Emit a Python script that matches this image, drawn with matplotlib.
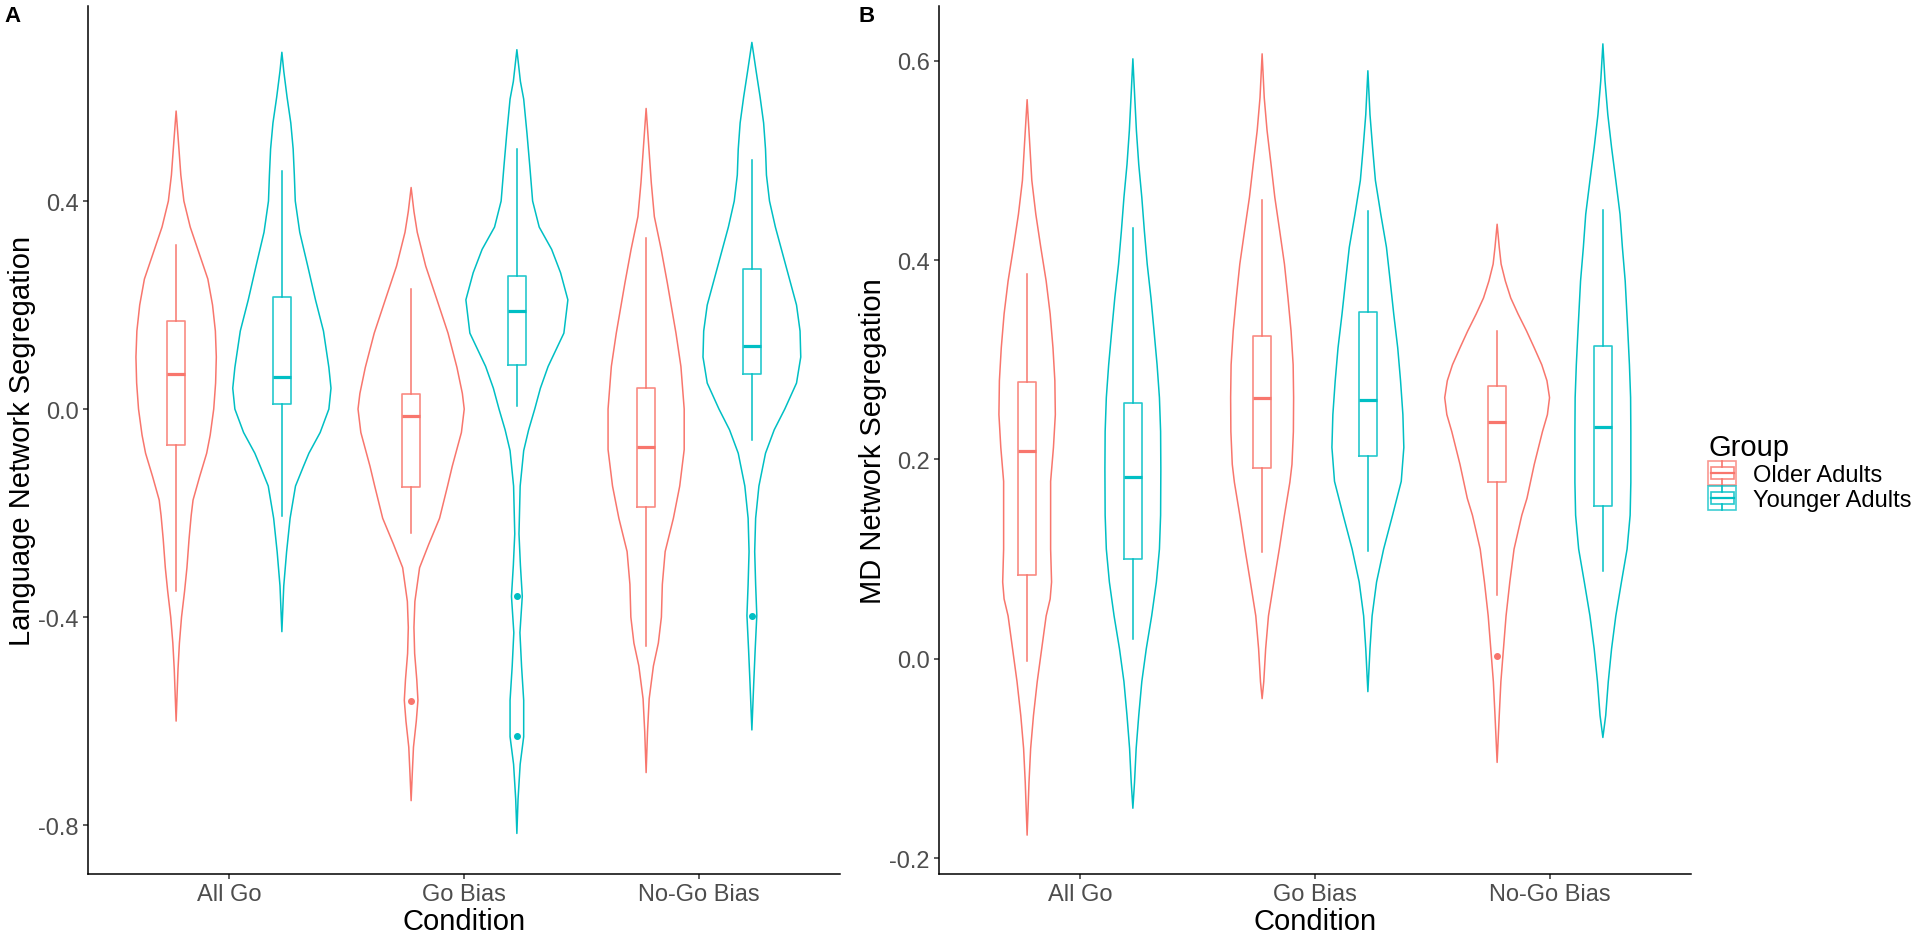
import numpy as np
import matplotlib
matplotlib.use("Agg")
import matplotlib.pyplot as plt
from matplotlib.legend_handler import HandlerBase
from matplotlib.patches import Rectangle, Patch
from matplotlib.lines import Line2D

plt.rcParams['font.family'] = ['Liberation Sans', 'DejaVu Sans']

conditions = ['All Go', 'Go Bias', 'No-Go Bias']
groups = ['Older Adults', 'Younger Adults']
colors = ['#F8766D', '#00BFC4']

# violin outlines: (value, half width in x units)
lang_older_allgo = [(0.573, 0), (0.50, 0.012), (0.45, 0.02), (0.40, 0.033), (0.35, 0.06),
                    (0.31, 0.09), (0.25, 0.135), (0.20, 0.155), (0.15, 0.167), (0.10, 0.171),
                    (0.05, 0.168), (0.00, 0.160), (-0.05, 0.145), (-0.085, 0.13), (-0.13, 0.10),
                    (-0.175, 0.072), (-0.205, 0.064), (-0.25, 0.055), (-0.305, 0.046),
                    (-0.35, 0.036), (-0.40, 0.023), (-0.45, 0.014), (-0.50, 0.008),
                    (-0.55, 0.004), (-0.60, 0)]
lang_older_gobias = [(0.426, 0), (0.38, 0.012), (0.34, 0.026), (0.275, 0.062), (0.21, 0.11),
                     (0.146, 0.157), (0.08, 0.195), (0.03, 0.218), (0.00, 0.226), (-0.045, 0.214),
                     (-0.085, 0.19), (-0.11, 0.175), (-0.148, 0.155), (-0.21, 0.121),
                     (-0.26, 0.075), (-0.305, 0.036), (-0.37, 0.016), (-0.42, 0.012),
                     (-0.47, 0.015), (-0.52, 0.024), (-0.56, 0.029), (-0.60, 0.022),
                     (-0.65, 0.010), (-0.70, 0.005), (-0.753, 0)]
lang_older_nogo = [(0.578, 0), (0.50, 0.012), (0.435, 0.022), (0.37, 0.035), (0.307, 0.064),
                   (0.243, 0.09), (0.146, 0.127), (0.082, 0.148), (0.00, 0.162), (-0.078, 0.162),
                   (-0.148, 0.143), (-0.21, 0.116), (-0.274, 0.081), (-0.337, 0.069),
                   (-0.40, 0.065), (-0.45, 0.052), (-0.494, 0.031), (-0.557, 0.013),
                   (-0.62, 0.006), (-0.699, 0)]
lang_younger_allgo = [(0.686, 0), (0.65, 0.008), (0.60, 0.022), (0.55, 0.038), (0.50, 0.048),
                      (0.45, 0.053), (0.40, 0.057), (0.34, 0.076), (0.275, 0.11), (0.21, 0.143),
                      (0.15, 0.177), (0.08, 0.20), (0.04, 0.209), (0.00, 0.20), (-0.045, 0.163),
                      (-0.085, 0.115), (-0.11, 0.092), (-0.148, 0.058), (-0.21, 0.035),
                      (-0.275, 0.02), (-0.34, 0.008), (-0.428, 0)]
lang_younger_gobias = [(0.691, 0), (0.63, 0.015), (0.596, 0.029), (0.53, 0.043), (0.467, 0.055),
                       (0.40, 0.067), (0.35, 0.095), (0.307, 0.148), (0.262, 0.186), (0.21, 0.217),
                       (0.146, 0.20), (0.082, 0.133), (0.04, 0.10), (0.00, 0.076), (-0.04, 0.05),
                       (-0.08, 0.029), (-0.148, 0.014), (-0.24, 0.009), (-0.30, 0.015),
                       (-0.36, 0.023), (-0.43, 0.013), (-0.495, 0.02), (-0.56, 0.029),
                       (-0.63, 0.029), (-0.683, 0.014), (-0.75, 0.005), (-0.816, 0)]
lang_younger_nogo = [(0.705, 0), (0.65, 0.018), (0.60, 0.035), (0.55, 0.05), (0.50, 0.058),
                     (0.45, 0.062), (0.40, 0.075), (0.35, 0.10), (0.30, 0.13), (0.25, 0.16),
                     (0.20, 0.19), (0.15, 0.205), (0.10, 0.208), (0.05, 0.19), (0.00, 0.14),
                     (-0.04, 0.095), (-0.085, 0.058), (-0.148, 0.03), (-0.21, 0.016),
                     (-0.274, 0.012), (-0.337, 0.016), (-0.397, 0.021), (-0.463, 0.014),
                     (-0.526, 0.008), (-0.617, 0)]

md_older_allgo = [(0.561, 0), (0.513, 0.012), (0.48, 0.02), (0.446, 0.037), (0.413, 0.058),
                  (0.379, 0.081), (0.346, 0.098), (0.312, 0.11), (0.279, 0.118), (0.245, 0.12),
                  (0.212, 0.112), (0.178, 0.10), (0.144, 0.10), (0.11, 0.10), (0.077, 0.104),
                  (0.06, 0.098), (0.043, 0.081), (0.01, 0.062), (-0.023, 0.043),
                  (-0.057, 0.027), (-0.09, 0.015), (-0.124, 0.008), (-0.177, 0)]
md_older_gobias = [(0.607, 0), (0.563, 0.009), (0.53, 0.021), (0.496, 0.038), (0.463, 0.054),
                   (0.429, 0.075), (0.396, 0.095), (0.362, 0.11), (0.329, 0.123), (0.295, 0.132),
                   (0.262, 0.134), (0.228, 0.133), (0.195, 0.127), (0.177, 0.118),
                   (0.144, 0.095), (0.11, 0.073), (0.077, 0.05), (0.043, 0.027),
                   (0.01, 0.015), (-0.023, 0.007), (-0.04, 0)]
md_older_nogo = [(0.436, 0), (0.413, 0.009), (0.396, 0.017), (0.379, 0.035), (0.362, 0.058),
                 (0.346, 0.089), (0.329, 0.125), (0.312, 0.158), (0.295, 0.19), (0.279, 0.212),
                 (0.262, 0.223), (0.245, 0.214), (0.228, 0.193), (0.195, 0.158), (0.161, 0.127),
                 (0.144, 0.105), (0.11, 0.072), (0.077, 0.054), (0.043, 0.038), (0.01, 0.027),
                 (-0.023, 0.016), (-0.057, 0.009), (-0.104, 0)]
md_younger_allgo = [(0.602, 0), (0.563, 0.008), (0.53, 0.015), (0.496, 0.025), (0.463, 0.038),
                    (0.429, 0.049), (0.396, 0.061), (0.362, 0.077), (0.329, 0.09), (0.295, 0.103),
                    (0.262, 0.113), (0.228, 0.118), (0.19, 0.119), (0.144, 0.118), (0.11, 0.113),
                    (0.077, 0.10), (0.043, 0.08), (0.01, 0.057), (-0.023, 0.038),
                    (-0.057, 0.025), (-0.09, 0.014), (-0.124, 0.007), (-0.15, 0)]
md_younger_gobias = [(0.59, 0), (0.546, 0.009), (0.513, 0.02), (0.48, 0.032), (0.446, 0.055),
                     (0.413, 0.079), (0.379, 0.095), (0.346, 0.11), (0.312, 0.127), (0.279, 0.139),
                     (0.245, 0.149), (0.212, 0.153), (0.178, 0.142), (0.144, 0.105),
                     (0.11, 0.067), (0.077, 0.037), (0.043, 0.018), (0.01, 0.009), (-0.033, 0)]
md_younger_nogo = [(0.617, 0), (0.58, 0.009), (0.546, 0.021), (0.513, 0.037), (0.48, 0.055),
                   (0.446, 0.073), (0.413, 0.083), (0.379, 0.095), (0.329, 0.106), (0.295, 0.113),
                   (0.262, 0.118), (0.228, 0.119), (0.177, 0.119), (0.144, 0.116), (0.11, 0.103),
                   (0.077, 0.079), (0.043, 0.055), (0.01, 0.037), (-0.023, 0.023),
                   (-0.057, 0.012), (-0.079, 0)]

# boxplot stats per condition: (whisker low, q1, median, q3, whisker high)
lang_older_box = [(-0.35, -0.069, 0.067, 0.170, 0.315),
                  (-0.239, -0.150, -0.014, 0.029, 0.230),
                  (-0.455, -0.188, -0.073, 0.040, 0.329)]
lang_younger_box = [(-0.205, 0.010, 0.061, 0.216, 0.458),
                    (0.005, 0.085, 0.188, 0.256, 0.500),
                    (-0.06, 0.067, 0.121, 0.270, 0.479)]
md_older_box = [(-0.002, 0.084, 0.208, 0.278, 0.386),
                (0.107, 0.191, 0.262, 0.324, 0.460),
                (0.064, 0.177, 0.238, 0.274, 0.329)]
md_younger_box = [(0.020, 0.100, 0.182, 0.257, 0.432),
                  (0.108, 0.203, 0.260, 0.348, 0.449),
                  (0.088, 0.153, 0.233, 0.314, 0.450)]

lang_older_out = [[], [-0.561], []]
lang_younger_out = [[], [-0.36, -0.629], [-0.397]]
md_older_out = [[], [], [0.003]]
md_younger_out = [[], [], []]


class BoxKey(HandlerBase):
    def create_artists(self, legend, orig_handle, xdescent, ydescent, width, height, fontsize, trans):
        c = orig_handle.get_edgecolor()
        x0, y0 = -xdescent, -ydescent
        arts = [
            Rectangle((x0, y0), width, height, fill=False, ec=c, lw=1.2, alpha=0.75),
            Rectangle((x0 + 0.1 * width, y0 + 0.25 * height), 0.8 * width, 0.5 * height,
                      fill=False, ec=c, lw=1.2, alpha=0.85),
            Line2D([x0 + 0.1 * width, x0 + 0.9 * width], [y0 + 0.5 * height] * 2, color=c, lw=1.6),
            Line2D([x0 + 0.5 * width] * 2, [y0, y0 + 0.25 * height], color=c, lw=1.2),
            Line2D([x0 + 0.5 * width] * 2, [y0 + 0.75 * height, y0 + height], color=c, lw=1.2),
        ]
        for a in arts:
            a.set_transform(trans)
        return arts


def draw_panel(ax, violins, boxes, outliers, ylabel, yticks, ylim):
    for g, (offset, color) in enumerate(zip([-0.225, 0.225], colors)):
        pos = [c + 1 + offset for c in range(len(conditions))]
        vstats, widths = [], []
        for prof in violins[g]:
            arr = np.array(sorted(prof))
            vstats.append(dict(coords=arr[:, 0], vals=arr[:, 1], mean=0, median=0,
                               min=arr[:, 0].min(), max=arr[:, 0].max()))
            widths.append(2 * arr[:, 1].max())
        parts = ax.violin(vstats, positions=pos, widths=widths, showmeans=False,
                          showextrema=False, showmedians=False)
        for body in parts['bodies']:
            body.set_facecolor('none')
            body.set_edgecolor(color)
            body.set_linewidth(1.1)
            body.set_alpha(1)

        bstats = []
        for (lo, q1, med, q3, hi), fl in zip(boxes[g], outliers[g]):
            bstats.append(dict(whislo=lo, q1=q1, med=med, q3=q3, whishi=hi, fliers=fl))
        ax.bxp(bstats, positions=pos, widths=0.075, showcaps=False, manage_ticks=False,
               boxprops=dict(color=color, lw=1.2, alpha=0.85),
               whiskerprops=dict(color=color, lw=1.1),
               medianprops=dict(color=color, lw=2.3),
               flierprops=dict(marker='o', markerfacecolor=color, markeredgecolor=color,
                               markersize=4, linestyle='none'))

    ax.set_xlim(0.4, 3.6)
    ax.set_ylim(*ylim)
    ax.set_xticks([1, 2, 3])
    ax.set_xticklabels(conditions)
    ax.set_yticks(yticks)
    ax.set_yticklabels([f'{t:.1f}' for t in yticks])
    ax.set_xlabel('Condition', fontsize=21, labelpad=1)
    ax.set_ylabel(ylabel, fontsize=21, labelpad=2)
    for s in ['top', 'right']:
        ax.spines[s].set_visible(False)
    for s in ['left', 'bottom']:
        ax.spines[s].set_linewidth(1.1)
        ax.spines[s].set_color('black')
    ax.tick_params(axis='both', direction='out', length=3.6, width=1.1, color='#333333',
                   labelsize=17, labelcolor='#4D4D4D', pad=3)


fig = plt.figure(figsize=(19.2, 9.37), dpi=100)
axA = fig.add_axes([88 / 1920, 1 - 875 / 937, 752 / 1920, 868 / 937])
axB = fig.add_axes([939 / 1920, 1 - 875 / 937, 752 / 1920, 868 / 937])

draw_panel(axA,
           [[lang_older_allgo, lang_older_gobias, lang_older_nogo],
            [lang_younger_allgo, lang_younger_gobias, lang_younger_nogo]],
           [lang_older_box, lang_younger_box],
           [lang_older_out, lang_younger_out],
           'Language Network Segregation', [-0.8, -0.4, 0.0, 0.4], (-0.894, 0.775))
draw_panel(axB,
           [[md_older_allgo, md_older_gobias, md_older_nogo],
            [md_younger_allgo, md_younger_gobias, md_younger_nogo]],
           [md_older_box, md_younger_box],
           [md_older_out, md_younger_out],
           'MD Network Segregation', [-0.2, 0.0, 0.2, 0.4, 0.6], (-0.216, 0.655))

fig.text(4 / 1920, 1 - 16 / 937, 'A', fontsize=16, fontweight='bold', va='center', ha='left')
fig.text(858 / 1920, 1 - 16 / 937, 'B', fontsize=16, fontweight='bold', va='center', ha='left')

handles = [Patch(edgecolor=c, facecolor='none', label=g) for g, c in zip(groups, colors)]
fig.legend(handles=handles, handler_map={Patch: BoxKey()}, loc='center left',
           bbox_to_anchor=(1708 / 1920, 0.495), frameon=False, title='Group',
           title_fontsize=21, fontsize=17, handlelength=1.2, handleheight=1.15,
           labelspacing=0.0, handletextpad=0.7, borderpad=0, borderaxespad=0,
           alignment='left')

fig.savefig('out.png', dpi=100)
